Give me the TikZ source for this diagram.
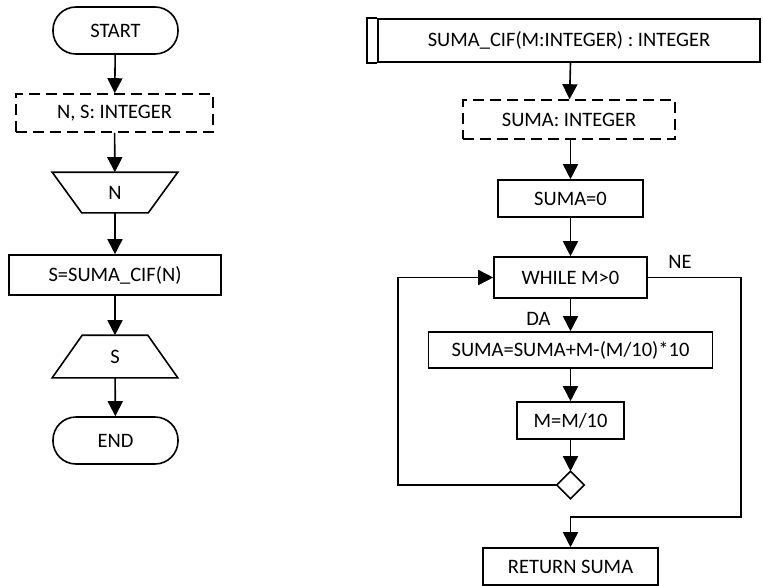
\documentclass[tikz,border=0pt]{standalone}
\usepackage{fontspec}
\setmainfont{Carlito}
\usepackage{tikz}
\usetikzlibrary{arrows.meta}

\begin{document}
\begin{tikzpicture}[x=1pt,y=-1pt,line width=1.6pt,
    every node/.style={font=\fontsize{20.5}{24}\selectfont,inner sep=0},
    box/.style={draw,rectangle,minimum width=#1,minimum height=38},
    term/.style={draw,rectangle,rounded corners=23pt,minimum width=125,minimum height=47},
    decl/.style={box=#1,dash pattern=on 11pt off 6pt},
    io/.style={rectangle,minimum width=124,minimum height=40},
    arr/.style={-{Triangle[width=15pt,length=15pt]}}]
        \useasboundingbox (0,0) rectangle (763,586);
        % main program
        \node[term] (start) at (115.5,30.5) {START};
        \node[decl=197,minimum height=38] (vars) at (114.5,113) {N, S: INTEGER};
        \node[io,minimum height=39] (inN) at (115,192.5) {N};
        \draw (inN.north west) -- (inN.north east) -- ([xshift=-29.5pt]inN.south east) -- ([xshift=29.5pt]inN.south west) -- cycle;
        \node[box=212,minimum height=40] (call) at (115,275) {S=SUMA\_CIF(N)};
        \node[io,minimum height=41] (outS) at (115,356.5) {S};
        \draw ([xshift=30pt]outS.north west) -- ([xshift=-30pt]outS.north east) -- (outS.south east) -- (outS.south west) -- cycle;
        \node[term] (end) at (115.5,440.5) {END};
        \draw[arr] (start) -- (vars);
        \draw[arr] (vars) -- (inN);
        \draw[arr] (inN) -- (call);
        \draw[arr] (call) -- (outS);
        \draw[arr] (outS) -- (end);
        % function
        \node[box=382,minimum height=43] (func) at (569,40.5) {SUMA\_CIF(M:INTEGER) : INTEGER};
        \draw (func.north west) -- ++(-10,0) |- (func.south west);
        \node[decl=212,minimum height=39] (vars2) at (569,119.5) {SUMA: INTEGER};
        \node[box=145,minimum height=37] (init) at (570.5,198.5) {SUMA=0};
        \node[box=153,minimum height=41] (while) at (570.5,277.5) {WHILE M>0};
        \node[box=284,minimum height=36] (body) at (570.5,350) {SUMA=SUMA+M-(M/10)*10};
        \node[box=107,minimum height=37] (div) at (570.5,420.5) {M=M/10};
        \node[rectangle,minimum size=26] (join) at (570.5,485) {};
        \draw (join.north) -- (join.east) -- (join.south) -- (join.west) -- cycle;
        \node[box=175,minimum height=37] (ret) at (570.5,566.5) {RETURN SUMA};
        \node (ne) at (680,262) {NE};
        \node (da) at (538.5,318.5) {DA};
        \coordinate (loopL) at (398,485);
        \coordinate (exitR) at (741,517);
        \draw[arr] (func.south -| init) -- (vars2);
        \draw[arr] (vars2.south -| init) -- (init);
        \draw[arr] (init) -- (while);
        \draw[arr] (while) -- (body);
        \draw[arr] (body) -- (div);
        \draw[arr] (div) -- (join);
        \draw[arr] (join.west) -- (loopL) |- (while.west);
        \draw[arr] (while.east) -| (exitR) -| (ret.north);
      \end{tikzpicture}
\end{document}
